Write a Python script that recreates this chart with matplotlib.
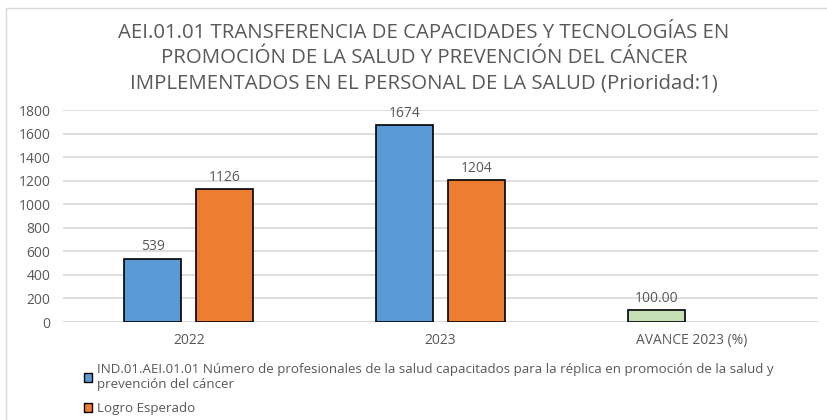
import matplotlib.pyplot as plt
from matplotlib.patches import Rectangle
import numpy as np

plt.rcParams['font.family'] = ['Open Sans', 'DejaVu Sans']

categories = ["2022", "2023", "AVANCE 2023 (%)"]
profesionales = [539, 1674, 100.00]
logro_esperado = [1126, 1204, None]
value_labels_1 = ["539", "1674", "100.00"]
value_labels_2 = ["1126", "1204", ""]

title = ("AEI.01.01 TRANSFERENCIA DE CAPACIDADES Y TECNOLOGÍAS EN\n"
         "PROMOCIÓN DE LA SALUD Y PREVENCIÓN DEL CÁNCER\n"
         "IMPLEMENTADOS EN EL PERSONAL DE LA SALUD (Prioridad:1)")
label_1 = ("IND.01.AEI.01.01 Número de profesionales de la salud capacitados para la réplica en promoción de la salud y\n"
           "prevención del cáncer")
label_2 = "Logro Esperado"

blue = "#5b9bd5"
orange = "#ed7d31"
green = "#c5e0b4"
grey_text = "#595959"

fig = plt.figure(figsize=(8.27, 4.2), dpi=100)
fig.patches.append(Rectangle((6 / 827, -0.1), 1.2, 1 - 8 / 420 + 0.1, transform=fig.transFigure,
                             fill=False, edgecolor="#d9d9d9", linewidth=1))
ax = fig.add_axes([63 / 827, 98 / 420, 755 / 827, 212 / 420])

x = np.arange(len(categories))
w = 0.226
off = 0.143

colors_1 = [blue, blue, green]
bars1 = ax.bar(x - off, profesionales, w, color=colors_1, edgecolor="black", linewidth=1.2, zorder=3)
vals2 = [v if v is not None else 0 for v in logro_esperado]
bars2 = ax.bar(x[:2] + off, vals2[:2], w, color=orange, edgecolor="black", linewidth=1.2, zorder=3)

for b, t in zip(bars1, value_labels_1):
    ax.text(b.get_x() + b.get_width() / 2, b.get_height() + 35, t, ha="center", va="bottom",
            fontsize=10, color=grey_text)
for b, t in zip(bars2, value_labels_2):
    ax.text(b.get_x() + b.get_width() / 2, b.get_height() + 35, t, ha="center", va="bottom",
            fontsize=10, color=grey_text)

ax.set_xlim(-0.5, 2.5)
ax.set_ylim(0, 1800)
ax.set_yticks(range(0, 1801, 200))
ax.set_xticks(x)
ax.set_xticklabels(categories)
ax.tick_params(axis="both", length=0, colors=grey_text, labelsize=10)
ax.tick_params(axis="y", pad=9)
ax.tick_params(axis="x", pad=8)
ax.grid(axis="y", color="#d9d9d9", linewidth=1.2, zorder=0)
for s in ax.spines.values():
    s.set_visible(False)
ax.axhline(0, color="#d9d9d9", linewidth=1.2, zorder=1)

fig.text(424 / 827, 1 - 23 / 420, title, ha="center", va="top", fontsize=14.7, color=grey_text,
         linespacing=1.36)

h1 = Rectangle((0, 0), 1, 1, facecolor=blue, edgecolor="black", linewidth=1)
h2 = Rectangle((0, 0), 1, 1, facecolor=orange, edgecolor="black", linewidth=1)
fig.legend([h1, h2], [label_1, label_2], loc="upper left", bbox_to_anchor=(72 / 827, 1 - 351 / 420),
           frameon=False, fontsize=9.6, labelcolor=grey_text, handlelength=0.6, handleheight=0.6,
           handletextpad=0.4, labelspacing=0.85)

fig.savefig("out.png", dpi=100)
